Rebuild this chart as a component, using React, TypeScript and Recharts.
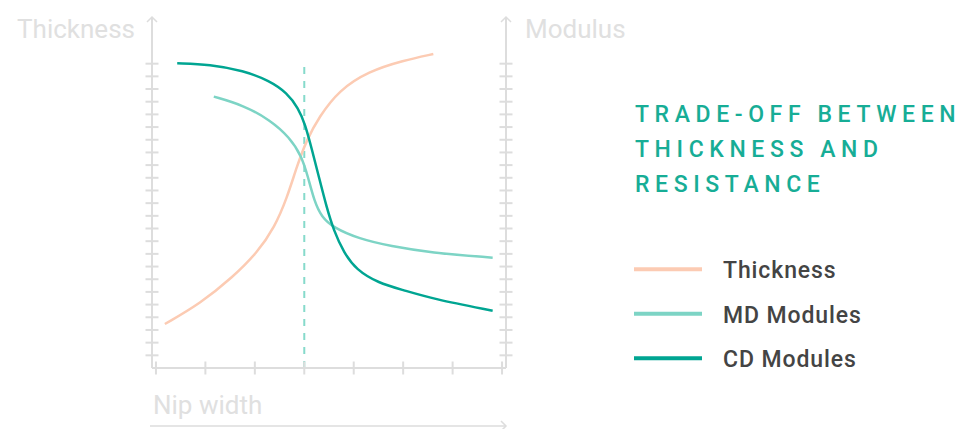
import React from 'react';
import { LineChart, Line, XAxis, YAxis, ReferenceLine, Label } from 'recharts';

// ---- data (x in nip-width tick units, y in axis tick units) ----
const thicknessX = [0.18, 0.9, 1.55, 2.05, 2.4, 2.65, 2.85, 3.05, 3.3, 3.7, 4.3, 5.0, 5.61];
const thicknessY = [3.47, 5.1, 7.15, 9.1, 11.1, 13.4, 15.9, 18.0, 19.8, 21.9, 23.4, 24.25, 24.76];
const mdX = [1.17, 1.77, 2.31, 2.7, 2.95, 3.08, 3.2, 3.35, 3.6, 4.1, 4.75, 5.55, 6.81];
const mdY = [21.4, 20.72, 19.55, 18.2, 16.7, 15.0, 13.2, 11.9, 11.05, 10.2, 9.6, 9.1, 8.7];
const cdX = [0.43, 1.09, 1.77, 2.3, 2.65, 2.88, 3.02, 3.15, 3.3, 3.45, 3.6, 3.8, 4.05, 4.5, 5.0, 5.6, 6.81];
const cdY = [24.03, 23.95, 23.45, 22.65, 21.7, 20.5, 19.2, 17.3, 15.0, 12.7, 10.8, 9.1, 7.75, 6.7, 6.15, 5.45, 4.52];

const xTicks = [0, 1, 2, 3, 4, 5, 6, 7];
const yTicks = [1, 2, 3, 4, 5, 6, 7, 8, 9, 10, 11, 12, 13, 14, 15, 16, 17, 18, 19, 20, 21, 22, 23, 24];
const dividerX = 3;
const dividerTop = 24;

const titleLines = ['TRADE-OFF BETWEEN', 'THICKNESS AND', 'RESISTANCE'];
const seriesNames = ['Thickness', 'MD Modules', 'CD Modules'];
const leftAxisTitle = 'Thickness';
const rightAxisTitle = 'Modulus';
const bottomAxisTitle = 'Nip width';

const toPoints = (xs: number[], ys: number[]) => xs.map((x, i) => ({ x, y: ys[i] }));
const thicknessData = toPoints(thicknessX, thicknessY);
const mdData = toPoints(mdX, mdY);
const cdData = toPoints(cdX, cdY);

// ---- styles ----
const W = 964;
const H = 429;
const AXIS = '#dddddd';
const AXIS_TEXT = '#e0e0e0';
const C_THICK = '#fccbb3';
const C_MD = '#7dd4c5';
const C_CD = '#00a592';
const C_DIVIDER = '#86dacb';
const TITLE = '#17ad96';
const FONT = 'Roboto, "Noto Sans", sans-serif';

const series = [
  { name: seriesNames[0], data: thicknessData, color: C_THICK },
  { name: seriesNames[1], data: mdData, color: C_MD },
  { name: seriesNames[2], data: cdData, color: C_CD },
];

const YTick = (props: any) => {
  const { x, y } = props;
  return <line x1={x - 6.5} x2={x + 6.5} y1={y} y2={y} stroke={AXIS} strokeWidth={2} />;
};
const XTick = (props: any) => {
  const { x, y } = props;
  return <line x1={x} x2={x} y1={y - 6.5} y2={y + 6.5} stroke={AXIS} strokeWidth={2} />;
};

const vb = (props: any) => props.viewBox || props;

const LeftLabel = (props: any) => {
  const { x, y, width } = vb(props);
  const ax = x + (width || 0);
  return (
    <g>
      <polyline points={`${ax - 5},${y + 5} ${ax},${y} ${ax + 5},${y + 5}`} fill="none" stroke={AXIS} strokeWidth={1.5} />
      <text x={ax - 17} y={y + 21} textAnchor="end" fontFamily={FONT} fontSize={26} fill={AXIS_TEXT}>
        {leftAxisTitle}
      </text>
    </g>
  );
};
const RightLabel = (props: any) => {
  const { x, y } = vb(props);
  const ax = x;
  return (
    <g>
      <polyline points={`${ax - 5},${y + 5} ${ax},${y} ${ax + 5},${y + 5}`} fill="none" stroke={AXIS} strokeWidth={1.5} />
      <text x={ax + 19} y={y + 21} textAnchor="start" fontFamily={FONT} fontSize={26} fill={AXIS_TEXT}>
        {rightAxisTitle}
      </text>
    </g>
  );
};
const BottomLabel = (props: any) => {
  const { x, y, width } = vb(props);
  const ly = y + 58;
  const r = x + width;
  return (
    <g>
      <text x={x + 1} y={y + 46} fontFamily={FONT} fontSize={26} fill={AXIS_TEXT}>
        {bottomAxisTitle}
      </text>
      <line x1={x - 2} x2={r} y1={ly} y2={ly} stroke={AXIS} strokeWidth={1.5} />
      <polyline points={`${r - 5},${ly - 5} ${r},${ly} ${r - 5},${ly + 5}`} fill="none" stroke={AXIS} strokeWidth={1.5} />
    </g>
  );
};

const LegendBlock = () => (
  <svg width={W} height={H} style={{ position: 'absolute', left: 0, top: 0, pointerEvents: 'none' }}>
    {titleLines.map((t, i) => (
      <text key={t} x={635} y={121.5 + i * 35} fontFamily={FONT} fontWeight={500} fontSize={23} letterSpacing={5.6} fill={TITLE}>
        {t}
      </text>
    ))}
    {series.map((s, i) => {
      const ly = 269.3 + i * 44.5;
      return (
        <g key={s.name}>
          <line x1={634} x2={702} y1={ly} y2={ly} stroke={s.color} strokeWidth={4} />
          <text x={723} y={ly + 9} fontFamily={FONT} fontWeight={500} fontSize={23} letterSpacing={0.9} fill="#444444">
            {s.name}
          </text>
        </g>
      );
    })}
  </svg>
);

export default function App() {
  return (
    <div style={{ position: 'absolute', left: 0, top: 0, width: W, height: H, background: '#ffffff' }}>
      <LineChart width={W} height={H} margin={{ top: 17, right: 457, bottom: 60, left: 151 }}>
        <XAxis
          type="number"
          dataKey="x"
          domain={[-0.08, 7.08]}
          ticks={xTicks}
          interval={0}
          allowDataOverflow
          height={1}
          tickSize={0}
          tickMargin={0}
          tick={<XTick />}
          tickLine={false}
          axisLine={{ stroke: AXIS, strokeWidth: 2 }}
          label={<Label content={BottomLabel} />}
        />
        <YAxis
          yAxisId="left"
          type="number"
          domain={[0, 27.68]}
          ticks={yTicks}
          interval={0}
          allowDataOverflow
          width={1}
          tickSize={0}
          tickMargin={0}
          tick={<YTick />}
          tickLine={false}
          axisLine={{ stroke: AXIS, strokeWidth: 2 }}
          label={<Label content={LeftLabel} />}
        />
        <YAxis
          yAxisId="right"
          orientation="right"
          type="number"
          domain={[0, 27.68]}
          ticks={yTicks}
          interval={0}
          allowDataOverflow
          width={1}
          tickSize={0}
          tickMargin={0}
          tick={<YTick />}
          tickLine={false}
          axisLine={{ stroke: AXIS, strokeWidth: 2 }}
          label={<Label content={RightLabel} />}
        />
        <ReferenceLine
          yAxisId="left"
          segment={[{ x: dividerX, y: 0 }, { x: dividerX, y: dividerTop }]}
          stroke={C_DIVIDER}
          strokeWidth={2}
          strokeDasharray="7 7"
          ifOverflow="visible"
        />
        {series.map((s) => (
          <Line
            key={s.name}
            yAxisId="left"
            data={s.data}
            dataKey="y"
            name={s.name}
            type="basis"
            stroke={s.color}
            strokeWidth={2.5}
            dot={false}
            activeDot={false}
            isAnimationActive={false}
          />
        ))}
      </LineChart>
      <LegendBlock />
    </div>
  );
}
